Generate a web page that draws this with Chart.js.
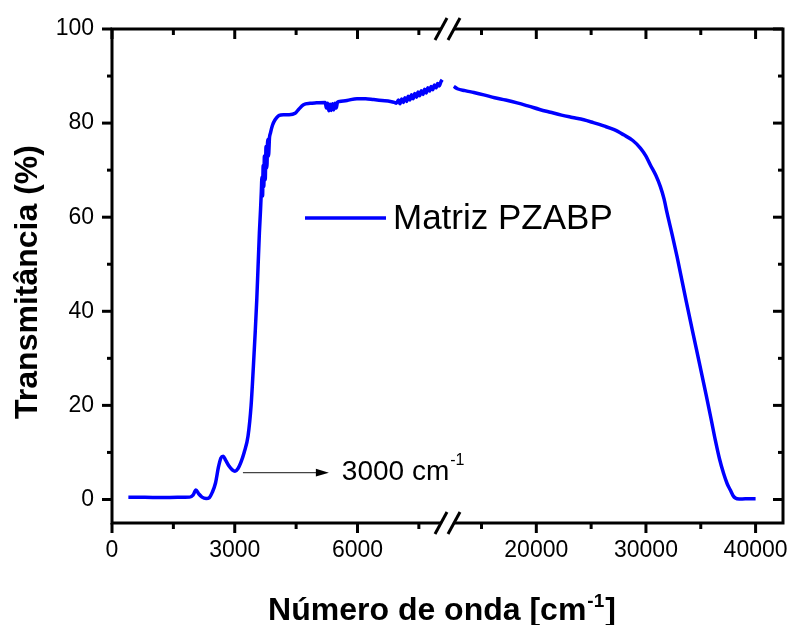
<!DOCTYPE html>
<html lang="pt">
<head>
<meta charset="utf-8">
<title>Matriz PZABP</title>
<script src="https://cdn.jsdelivr.net/npm/chart.js@4.4.1/dist/chart.umd.min.js"></script>
<style>
  html, body { margin: 0; padding: 0; background: #fff; }
  #grafico { display: block; }
</style>
</head>
<body>
<canvas id="grafico" width="792" height="625"></canvas>
<script>
// Faixa baixa do espectro (antes da quebra do eixo)
const numeroOndaA = [400, 800, 1200, 1600, 1900, 1980, 2050, 2120, 2200, 2300, 2380, 2450, 2530, 2600, 2660, 2720, 2780, 2860, 2940, 3006, 3080, 3150, 3230, 3325, 3400, 3455, 3500, 3538, 3570, 3602, 3630, 3650, 3665, 3680, 3695, 3710, 3725, 3745, 3765, 3785, 3805, 3825, 3850, 3870, 3920, 3986, 4080, 4190, 4330, 4476, 4560, 4680, 4844, 5000, 5211, 5240, 5270, 5300, 5330, 5360, 5390, 5420, 5450, 5480, 5510, 5560, 5743, 5988, 6200, 6395, 6600, 6804, 6900, 6950, 7000, 7040, 7080, 7120, 7160, 7200, 7240, 7280, 7320, 7360, 7400, 7440, 7480, 7520, 7560, 7600, 7640, 7680, 7720, 7760, 7800, 7840, 7880, 7920, 7960, 8000, 8040, 8070];
const transmitanciaA = [0.45, 0.45, 0.4, 0.45, 0.5, 0.9, 2.0, 1.2, 0.5, 0.2, 0.4, 1.5, 3.5, 6.8, 8.8, 9.2, 8.3, 7.1, 6.3, 6.0, 6.6, 7.9, 10.0, 13.5, 20.0, 28.2, 35.5, 42.4, 49.5, 56.6, 61.5, 65.5, 68.5, 64.5, 71.0, 66.5, 73.0, 68.0, 75.0, 70.5, 76.5, 73.0, 77.0, 77.8, 79.5, 80.7, 81.6, 81.8, 81.8, 82.1, 82.9, 83.9, 84.2, 84.3, 84.4, 83.2, 84.2, 82.6, 84.0, 82.7, 84.1, 82.8, 84.2, 83.2, 84.4, 84.6, 84.8, 85.2, 85.2, 85.0, 84.8, 84.6, 84.4, 84.2, 84.9, 84.1, 85.1, 84.4, 85.4, 84.6, 85.7, 84.9, 86.0, 85.2, 86.3, 85.5, 86.6, 85.8, 86.9, 86.1, 87.2, 86.4, 87.5, 86.8, 87.8, 87.1, 88.1, 87.5, 88.4, 87.9, 88.8, 89.2];

// Faixa alta do espectro (depois da quebra)
const numeroOndaB = [12474, 12800, 13500, 14300, 15209, 16200, 17200, 18253, 19300, 20300, 21288, 22300, 23300, 24324, 25200, 26147, 27100, 27970, 28800, 29492, 30000, 30404, 30900, 31315, 31650, 31926, 32400, 32837, 33685, 34597, 35508, 35950, 36328, 36700, 37085, 37400, 37696, 37950, 38152, 38500, 39063, 40000];
const transmitanciaB = [87.8, 87.3, 86.9, 86.5, 86.0, 85.4, 84.9, 84.3, 83.6, 82.9, 82.3, 81.7, 81.2, 80.7, 80.1, 79.4, 78.6, 77.5, 76.3, 74.7, 73.0, 71.1, 68.9, 66.5, 63.9, 60.9, 56.2, 51.6, 42.0, 32.0, 22.0, 17.0, 12.6, 8.7, 5.5, 3.4, 2.0, 0.8, 0.3, 0.1, 0.15, 0.15];

const ticksY = [0, 20, 40, 60, 80, 100];
const ticksYMenores = [10, 30, 50, 70, 90];
const ticksXA = [0, 3000, 6000];
const ticksXAMenores = [1500, 4500, 7500];
const ticksXB = [20000, 30000, 40000];
const ticksXBMenores = [15000, 25000, 35000];

const nomeSerie = 'Matriz PZABP';
const tituloY = 'Transmitância (%)';
const tituloX = ['Número de onda [cm', '-1', ']'];
const textoSeta = ['3000 cm', '-1'];
// seta: de 3200 a 5300 cm-1, na altura de 5.7 %
const setaInicio = 3200, setaFim = 5300, setaY = 5.7;

const azul = '#0000ff';
const familia = '"Liberation Sans", Arial, sans-serif';
const fonteTicks = { family: familia, size: 23 };

function fixarTicks(lista) {
  return scale => { scale.ticks = lista.map(v => ({ value: v })); };
}

// sem folga extra para os rótulos das pontas
function semFolga(scale) {
  scale.paddingLeft = 0;
  scale.paddingRight = 0;
  scale.paddingTop = 0;
  scale.paddingBottom = 0;
}

// desenha moldura, marcas de escala, quebra do eixo, legenda, seta e títulos
const molduraPlugin = {
  id: 'moldura',
  afterDraw(chart) {
    const ctx = chart.ctx;
    const area = chart.chartArea;
    const y = chart.scales.y, xa = chart.scales.xa, xb = chart.scales.xb;

    function traco(x1, y1, x2, y2) {
      ctx.beginPath();
      ctx.moveTo(x1, y1);
      ctx.lineTo(x2, y2);
      ctx.stroke();
    }

    ctx.save();
    ctx.strokeStyle = '#000';
    ctx.lineWidth = 3;
    ctx.strokeRect(area.left, area.top, area.right - area.left, area.bottom - area.top);

    // esquerda para fora, direita para dentro
    ticksY.concat(ticksYMenores).forEach(v => {
      const len = ticksY.includes(v) ? 10 : 5;
      const py = y.getPixelForValue(v);
      traco(area.left - len, py, area.left, py);
      traco(area.right, py, area.right - len, py);
    });
    // embaixo para fora, em cima para dentro
    [[xa, ticksXA, ticksXAMenores], [xb, ticksXB, ticksXBMenores]].forEach(([sc, maiores, menores]) => {
      maiores.concat(menores).forEach(v => {
        const len = maiores.includes(v) ? 10 : 6;
        const px = sc.getPixelForValue(v);
        traco(px, area.bottom, px, area.bottom + len);
        traco(px, area.top, px, area.top + len);
      });
    });

    // quebra do eixo x
    const xq = xa.right;
    [area.top, area.bottom].forEach(yb => {
      ctx.fillStyle = '#fff';
      ctx.fillRect(xq - 6.5, yb - 3, 13, 6);
      traco(xq - 12.5, yb + 11, xq - 0.5, yb - 11);
      traco(xq + 0.5, yb + 11, xq + 12.5, yb - 11);
    });

    // legenda
    ctx.strokeStyle = azul;
    ctx.lineWidth = 3.5;
    traco(305, 218, 386, 218);
    ctx.fillStyle = '#000';
    ctx.font = '35px ' + familia;
    ctx.textBaseline = 'middle';
    ctx.textAlign = 'left';
    ctx.fillText(nomeSerie, 393, 219);

    // seta apontando para 3000 cm-1
    const xs = xa.getPixelForValue(setaInicio);
    const xf = xa.getPixelForValue(setaFim);
    const ys = y.getPixelForValue(setaY);
    ctx.strokeStyle = '#444';
    ctx.lineWidth = 1.3;
    traco(xs, ys, xf - 10, ys);
    ctx.fillStyle = '#000';
    ctx.beginPath();
    ctx.moveTo(xf, ys);
    ctx.lineTo(xf - 13, ys - 3.8);
    ctx.lineTo(xf - 13, ys + 3.8);
    ctx.closePath();
    ctx.fill();
    ctx.textBaseline = 'alphabetic';
    ctx.font = '28px ' + familia;
    ctx.fillText(textoSeta[0], xf + 13, ys + 7.5);
    const wSeta = ctx.measureText(textoSeta[0]).width;
    ctx.font = '16px ' + familia;
    ctx.fillText(textoSeta[1], xf + 13 + wSeta + 1, ys - 8);

    // título do eixo x, com expoente
    ctx.font = 'bold 32px ' + familia;
    const w0 = ctx.measureText(tituloX[0]).width;
    const w2 = ctx.measureText(tituloX[2]).width;
    ctx.font = 'bold 19px ' + familia;
    const w1 = ctx.measureText(tituloX[1]).width;
    let xt = 442 - (w0 + w1 + w2 + 2) / 2;
    const yt = 620;
    ctx.font = 'bold 32px ' + familia;
    ctx.fillText(tituloX[0], xt, yt);
    ctx.font = 'bold 19px ' + familia;
    ctx.fillText(tituloX[1], xt + w0 + 1, yt - 13);
    ctx.font = 'bold 32px ' + familia;
    ctx.fillText(tituloX[2], xt + w0 + w1 + 2, yt);

    // título do eixo y
    ctx.translate(37, 282);
    ctx.rotate(-Math.PI / 2);
    ctx.textAlign = 'center';
    ctx.fillText(tituloY, 0, 0);
    ctx.restore();
  }
};

const eixoX = (min, max, lista) => ({
  type: 'linear',
  axis: 'x',
  position: 'bottom',
  stack: 'x',
  stackWeight: 1,
  min: min,
  max: max,
  afterBuildTicks: fixarTicks(lista),
  afterFit: s => { s.height = 50; semFolga(s); },
  grid: { display: false, drawTicks: false },
  border: { display: false },
  ticks: { padding: 14, color: '#000', font: fonteTicks, maxRotation: 0, autoSkip: false, callback: v => String(v) }
});

const ctx = document.getElementById('grafico');
new Chart(ctx, {
  type: 'line',
  data: {
    datasets: [
      {
        label: nomeSerie,
        xAxisID: 'xa',
        data: numeroOndaA.map((x, i) => ({ x: x, y: transmitanciaA[i] })),
        borderColor: azul,
        borderWidth: 3.5,
        pointRadius: 0,
        cubicInterpolationMode: 'monotone'
      },
      {
        label: nomeSerie,
        xAxisID: 'xb',
        data: numeroOndaB.map((x, i) => ({ x: x, y: transmitanciaB[i] })),
        borderColor: azul,
        borderWidth: 3.5,
        pointRadius: 0,
        cubicInterpolationMode: 'monotone'
      }
    ]
  },
  options: {
    responsive: false,
    animation: false,
    layout: { padding: { left: 0, right: 9, top: 29, bottom: 52 } },
    plugins: { legend: { display: false }, tooltip: { enabled: false } },
    scales: {
      xa: eixoX(0, 8200, ticksXA),
      xb: eixoX(11900, 42500, ticksXB),
      y: {
        position: 'left',
        min: -5,
        max: 100,
        afterBuildTicks: fixarTicks(ticksY),
        afterFit: s => { s.width = 112; semFolga(s); },
        grid: { display: false, drawTicks: false },
        border: { display: false },
        ticks: { padding: 18, color: '#000', font: fonteTicks, callback: v => String(v) }
      }
    }
  },
  plugins: [molduraPlugin]
});
</script>
</body>
</html>
